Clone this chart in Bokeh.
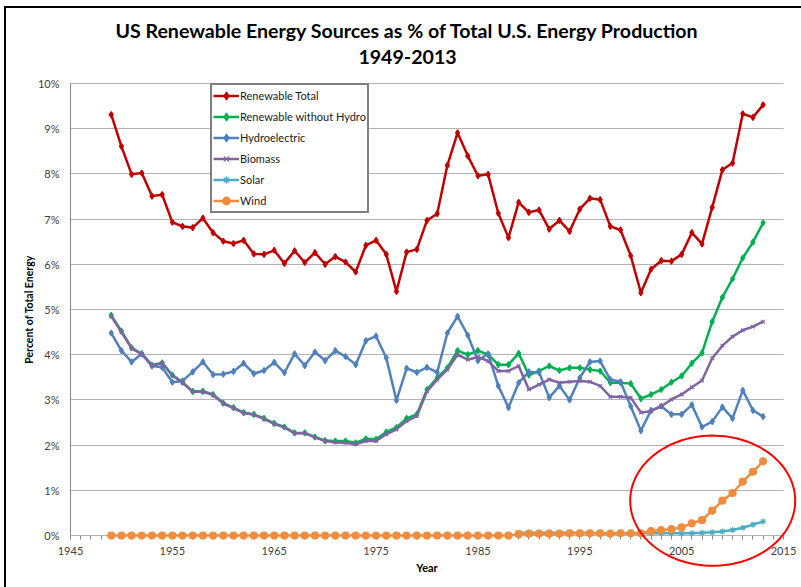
import numpy as np
from bokeh.plotting import figure
from bokeh.models import (FixedTicker, Legend, LegendItem, Label, PolyAnnotation,
                          Range1d, InlineStyleSheet)
from bokeh.core.properties import value
from bokeh.embed import file_html
from bokeh.resources import INLINE

years = list(range(1949, 2014))
solar_years = list(range(1989, 2014))

renewable_total = [
    9.31, 8.61, 7.99, 8.02, 7.51, 7.54, 6.93, 6.84, 6.81, 7.02, 6.70,   # 1949-1959
    6.51, 6.46, 6.53, 6.23, 6.22, 6.31, 6.02, 6.30, 6.04, 6.26,         # 1960-1969
    6.00, 6.17, 6.05, 5.83, 6.42, 6.53, 6.22, 5.40, 6.27, 6.33,         # 1970-1979
    6.97, 7.12, 8.19, 8.91, 8.40, 7.96, 7.99, 7.13, 6.59, 7.37,         # 1980-1989
    7.15, 7.20, 6.78, 6.97, 6.73, 7.22, 7.46, 7.43, 6.84, 6.76,         # 1990-1999
    6.19, 5.37, 5.89, 6.08, 6.07, 6.22, 6.70, 6.45, 7.26, 8.09,         # 2000-2009
    8.24, 9.33, 9.25, 9.53,                                             # 2010-2013
]
without_hydro = [
    4.87, 4.52, 4.15, 4.02, 3.77, 3.82, 3.55, 3.39, 3.19, 3.19, 3.12,
    2.93, 2.83, 2.72, 2.68, 2.59, 2.48, 2.40, 2.27, 2.27, 2.18,
    2.10, 2.09, 2.09, 2.05, 2.14, 2.13, 2.29, 2.39, 2.59, 2.68,
    3.23, 3.49, 3.71, 4.09, 4.00, 4.09, 4.00, 3.78, 3.78, 4.03,
    3.55, 3.64, 3.75, 3.65, 3.71, 3.71, 3.67, 3.64, 3.38, 3.38,
    3.36, 3.03, 3.12, 3.23, 3.39, 3.53, 3.81, 4.04, 4.73, 5.27,
    5.68, 6.14, 6.49, 6.92,
]
hydroelectric = [
    4.48, 4.09, 3.84, 4.02, 3.75, 3.72, 3.39, 3.42, 3.62, 3.84, 3.56,
    3.57, 3.63, 3.81, 3.58, 3.65, 3.83, 3.60, 4.02, 3.76, 4.06,
    3.87, 4.09, 3.96, 3.78, 4.31, 4.41, 3.93, 2.99, 3.70, 3.61,
    3.72, 3.61, 4.48, 4.85, 4.43, 3.87, 4.02, 3.31, 2.83, 3.38,
    3.62, 3.61, 3.05, 3.31, 3.00, 3.49, 3.84, 3.86, 3.45, 3.40,
    2.86, 2.32, 2.77, 2.86, 2.68, 2.68, 2.89, 2.40, 2.52, 2.84,
    2.59, 3.21, 2.77, 2.63,
]
biomass = [
    4.85, 4.50, 4.14, 4.01, 3.76, 3.81, 3.54, 3.38, 3.18, 3.18, 3.11,
    2.92, 2.82, 2.71, 2.67, 2.58, 2.47, 2.39, 2.26, 2.26, 2.17,
    2.09, 2.06, 2.05, 2.02, 2.09, 2.09, 2.24, 2.35, 2.53, 2.64,
    3.19, 3.45, 3.67, 4.00, 3.89, 3.95, 3.86, 3.64, 3.64, 3.75,
    3.23, 3.34, 3.45, 3.38, 3.40, 3.42, 3.40, 3.31, 3.07, 3.07,
    3.05, 2.72, 2.75, 2.86, 3.01, 3.12, 3.28, 3.43, 3.92, 4.20,
    4.40, 4.54, 4.62, 4.73,
]
solar = [
    0.06, 0.06, 0.06, 0.06, 0.06, 0.06, 0.06, 0.06, 0.05, 0.05, 0.05,  # 1989-1999
    0.05, 0.05, 0.05, 0.05, 0.05, 0.05, 0.05, 0.06, 0.07, 0.09,        # 2000-2009
    0.12, 0.17, 0.24, 0.31,                                            # 2010-2013
]
wind = [
    0.0, 0.0, 0.0, 0.0, 0.0, 0.0, 0.0, 0.0, 0.0, 0.0, 0.0,
    0.0, 0.0, 0.0, 0.0, 0.0, 0.0, 0.0, 0.0, 0.0, 0.0,
    0.0, 0.0, 0.0, 0.0, 0.0, 0.0, 0.0, 0.0, 0.0, 0.0,
    0.0, 0.0, 0.0, 0.0, 0.0, 0.0, 0.0, 0.0, 0.0, 0.03,
    0.04, 0.04, 0.04, 0.04, 0.05, 0.05, 0.05, 0.05, 0.04, 0.05,
    0.05, 0.05, 0.10, 0.12, 0.14, 0.18, 0.27, 0.34, 0.55, 0.77,
    0.94, 1.19, 1.41, 1.64,
]

x_ticks = [1945, 1955, 1965, 1975, 1985, 1995, 2005, 2015]
x_tick_labels = [str(t) for t in x_ticks]
y_ticks = [0, 1, 2, 3, 4, 5, 6, 7, 8, 9, 10]
y_tick_labels = ["%d%%" % t for t in y_ticks]

title_line1 = "US Renewable Energy Sources as % of Total U.S. Energy Production"
title_line2 = "1949-2013"
x_label = "Year"
y_label = "Percent of Total Energy"

FONT = "Lato"

# ---- layout geometry (pixels) ----
W, H = 797, 585
FR_LEFT, FR_BOTTOM_PAD = 3, 5                   # tiny side panels for the axes
FR_BOTTOM = H - FR_BOTTOM_PAD
AX_LEFT, AX_RIGHT, AX_TOP, AX_BOTTOM = 70, 783, 83, 535
X0, X1, Y0, Y1 = 1945, 2015, 0, 10              # visible axis extents
PX_X = (AX_RIGHT - AX_LEFT) / (X1 - X0)
PX_Y = (AX_BOTTOM - AX_TOP) / (Y1 - Y0)
x_start = X0 - (AX_LEFT - FR_LEFT) / PX_X
x_end = X0 + (W - AX_LEFT) / PX_X
y_top = Y1 + AX_TOP / PX_Y
y_bot = Y0 - (FR_BOTTOM - AX_BOTTOM) / PX_Y

p = figure(width=W, height=H, output_backend="svg", toolbar_location=None,
           x_range=Range1d(x_start, x_end), y_range=Range1d(y_bot, y_top),
           min_border_left=FR_LEFT, min_border_right=0, min_border_top=0,
           min_border_bottom=FR_BOTTOM_PAD)
p.outline_line_color = None
p.background_fill_color = "white"
p.border_fill_color = "white"
p.stylesheets = [InlineStyleSheet(css="""
:host { position: relative; }
:host::after { content: ""; position: absolute; left: 4px; top: 6px;
  width: 3000px; height: 3000px; border-left: 2px solid black;
  border-top: 2px solid black; z-index: 50; pointer-events: none; }
""")]

# axes drawn at fixed data locations inside the frame
p.xaxis.fixed_location = Y0
p.xaxis.bounds = (X0, X1)
p.xaxis.ticker = FixedTicker(ticks=[], minor_ticks=list(range(X0, X1 + 1)))
p.xaxis.major_tick_out = 0
p.xaxis.minor_tick_out = 4
p.xaxis.major_label_standoff = 0
p.xaxis.level = "underlay"

p.yaxis.fixed_location = X0
p.yaxis.bounds = (Y0, Y1)
p.yaxis.ticker = FixedTicker(ticks=[], minor_ticks=[])
p.yaxis.major_tick_out = 0
p.yaxis.minor_tick_out = 0
p.yaxis.major_label_standoff = 0
for ax in (p.xaxis, p.yaxis):
    ax.axis_line_color = "#868686"
    ax.major_tick_line_color = "#868686"
    ax.minor_tick_line_color = "#868686"
    ax.major_tick_in = 0
    ax.minor_tick_in = 0

p.xgrid.grid_line_color = None
p.ygrid.ticker = FixedTicker(ticks=y_ticks)
p.ygrid.grid_line_color = "#B3B3B3"
p.ygrid.grid_line_width = 1
if "cross_bounds" in p.ygrid[0].properties():
    p.ygrid.cross_bounds = (X0, X1)

# tick labels and axis titles
p.text(x=x_ticks, y=[Y0] * len(x_ticks), text=x_tick_labels, y_offset=15,
       text_align="center", text_baseline="middle", text_font=value(FONT),
       text_font_size=value("11px"), text_color="#404040")
p.text(x=[X0] * len(y_ticks), y=y_ticks, text=y_tick_labels, x_offset=-11,
       text_align="right", text_baseline="middle", text_font=value(FONT),
       text_font_size=value("11px"), text_color="#404040")
p.text(x=[(X0 + X1) / 2], y=[Y0], text=[x_label], y_offset=32,
       text_align="center", text_baseline="middle", text_font=value(FONT),
       text_font_size=value("11px"), text_font_style="bold", text_color="black")
p.text(x=[X0], y=[(Y0 + Y1) / 2], text=[y_label], x_offset=-42, angle=np.pi / 2,
       text_align="center", text_baseline="middle", text_font=value(FONT),
       text_font_size=value("10.5px"), text_font_style="bold", text_color="black")

series = [
    ("Renewable Total", years, renewable_total, "#C00000", "diamond", 6),
    ("Renewable without Hydro", years, without_hydro, "#00B050", "diamond", 6),
    ("Hydroelectric", years, hydroelectric, "#4F81BD", "diamond", 6),
    ("Biomass", years, biomass, "#8064A2", "x", 5),
    ("Solar", solar_years, solar, "#4BACC6", "asterisk", 6),
    ("Wind", years, wind, "#F08C3C", "circle", 7),
]
items = []
for name, xs, ys, color, marker, size in series:
    ln = p.line(xs, ys, line_color=color, line_width=2.5)
    sc = p.scatter(xs, ys, marker=marker, size=size, line_color=color,
                   fill_color=color, line_width=1.2)
    items.append(LegendItem(label=name, renderers=[ln, sc]))

LEG_LEFT, LEG_BOTTOM = 210, 213
legend = Legend(items=items, location=(LEG_LEFT - FR_LEFT, FR_BOTTOM - LEG_BOTTOM),
                orientation="vertical")
legend.border_line_color = "black"
legend.border_line_width = 2
legend.background_fill_color = "white"
legend.background_fill_alpha = 1
legend.label_text_font = FONT
legend.label_text_font_size = "11px"
legend.label_text_color = "#1a1a1a"
legend.glyph_height = 19
legend.label_height = 19
legend.glyph_width = 26
legend.spacing = 2
legend.padding = 1
legend.margin = 0
legend.label_standoff = 1
p.add_layout(legend, "center")

# highlight ellipse around the recent wind / solar growth
cx, cy, a, b = 2008.05, 0.77, 8.1, 1.44
t = np.linspace(0, 2 * np.pi, 120)
p.add_layout(PolyAnnotation(xs=list(cx + a * np.cos(t)), ys=list(cy + b * np.sin(t)),
                            xs_units="data", ys_units="data",
                            fill_alpha=0, line_color="#FF0000", line_alpha=1,
                            line_width=2))

# two-line title, centred above the plot
title_x = X0 + (407 - AX_LEFT) / PX_X
for txt, ypix in ((title_line1, 30), (title_line2, 56)):
    p.add_layout(Label(x=title_x, y=Y1 + (AX_TOP - ypix) / PX_Y,
                       x_units="data", y_units="data", text=txt,
                       text_align="center", text_baseline="middle",
                       text_font=FONT, text_font_style="bold",
                       text_font_size="19.6px", text_color="black"))

open("out.html", "w").write(file_html(p, INLINE))
